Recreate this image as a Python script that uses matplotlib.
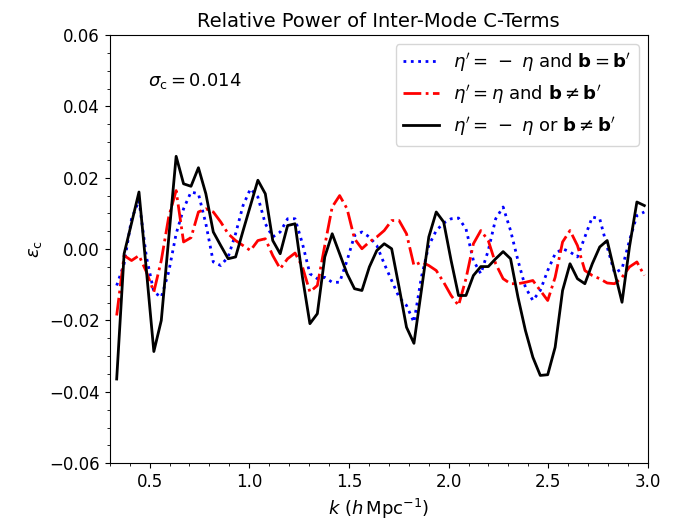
import numpy as np
import matplotlib
matplotlib.use('Agg')
import matplotlib.pyplot as plt
from matplotlib.ticker import MultipleLocator

# k grid (h/Mpc), evenly spaced bins
k = np.linspace(0.335, 2.982, 72)

# eta' = -eta and b = b'
eps_blue = [-0.0102, -0.0041, 0.0085, 0.0136, -0.0022, -0.0120, -0.0135, -0.0064, 0.0043, 0.0113,
            0.0160, 0.0155, 0.0071, -0.0036, -0.0046, -0.0022, 0.0043, 0.0122, 0.0169, 0.0146,
            0.0071, 0.0034, 0.0048, 0.0085, 0.0085, 0.0015, -0.0069, -0.0083, -0.0079, -0.0093,
            -0.0093, -0.0032, 0.0038, 0.0048, 0.0034, 0.0010, -0.0041, -0.0088, -0.0135, -0.0158,
            -0.0205, -0.0079, 0.0010, 0.0052, 0.0073, 0.0085, 0.0087, 0.0057, -0.0032, -0.0069,
            -0.0004, 0.0085, 0.0118, 0.0052, -0.0032, -0.0107, -0.0144, -0.0116, -0.0060, -0.0013,
            0.0001, -0.0008, -0.0022, 0.0034, 0.0090, 0.0085, 0.0006, -0.0067, -0.0055, 0.0024,
            0.0094, 0.0104]

# eta' = eta and b != b'
eps_red = [-0.0186, -0.0018, -0.0032, -0.0018, -0.0064, -0.0120, -0.0032, 0.0090, 0.0164, 0.0020,
           0.0032, 0.0104, 0.0113, 0.0104, 0.0076, 0.0043, 0.0024, 0.0010, -0.0004, 0.0024,
           0.0029, -0.0018, -0.0055, -0.0027, -0.0011, -0.0050, -0.0120, -0.0102, 0.0010, 0.0118,
           0.0150, 0.0113, 0.0029, 0.0001, 0.0020, 0.0034, 0.0052, 0.0080, 0.0080, 0.0043,
           -0.0046, -0.0036, -0.0046, -0.0060, -0.0093, -0.0130, -0.0158, -0.0083, 0.0015, 0.0052,
           0.0024, -0.0041, -0.0083, -0.0097, -0.0097, -0.0093, -0.0088, -0.0116, -0.0144, -0.0079,
           0.0020, 0.0052, 0.0010, -0.0060, -0.0074, -0.0083, -0.0095, -0.0097, -0.0079, -0.0050,
           -0.0036, -0.0074]

# eta' = -eta or b != b'
eps_black = [-0.0364, -0.0013, 0.0073, 0.0160, -0.0060, -0.0287, -0.0200, 0.0030, 0.0260, 0.0183,
             0.0176, 0.0228, 0.0155, 0.0048, 0.0010, -0.0027, -0.0022, 0.0051, 0.0122, 0.0193,
             0.0155, 0.0024, -0.0013, 0.0066, 0.0071, -0.0079, -0.0209, -0.0181, -0.0022, 0.0043,
             -0.0013, -0.0069, -0.0111, -0.0116, -0.0050, -0.0004, 0.0015, 0.0001, -0.0107, -0.0219,
             -0.0264, -0.0116, 0.0034, 0.0104, 0.0076, -0.0032, -0.0130, -0.0130, -0.0074, -0.0049,
             -0.0049, -0.0027, -0.0007, -0.0027, -0.0135, -0.0228, -0.0303, -0.0354, -0.0352, -0.0275,
             -0.0116, -0.0041, -0.0083, -0.0097, -0.0041, 0.0006, 0.0024, -0.0064, -0.0149, 0.0006,
             0.0132, 0.0122]

labels = [r"$\eta' = \,-\;\eta$ and $\mathbf{b} = \mathbf{b}'$",
          r"$\eta' = \eta$ and $\mathbf{b} \neq \mathbf{b}'$",
          r"$\eta' = \,-\;\eta$ or $\mathbf{b} \neq \mathbf{b}'$"]
sigma_c = 0.014

fig = plt.figure(figsize=(6.9, 5.3), dpi=100)
ax = fig.add_axes([0.159, 0.126, 0.78, 0.808])

ax.plot(k, eps_blue, ':', color='blue', lw=2, label=labels[0])
ax.plot(k, eps_red, '-.', color='red', lw=2, label=labels[1])
ax.plot(k, eps_black, '-', color='black', lw=2, label=labels[2])

ax.set_xlim(0.3, 3.0)
ax.set_ylim(-0.06, 0.06)
ax.xaxis.set_major_locator(MultipleLocator(0.5))
ax.xaxis.set_minor_locator(MultipleLocator(0.1))
ax.yaxis.set_major_locator(MultipleLocator(0.02))
ax.yaxis.set_minor_locator(MultipleLocator(0.005))
ax.tick_params(labelsize=12)

ax.set_xlabel(r'$k\ (h\,\mathrm{Mpc}^{-1})$', fontsize=13)
ax.set_ylabel(r'$\varepsilon_{\rm c}$', fontsize=13)
ax.set_title('Relative Power of Inter-Mode C-Terms', fontsize=14)
ax.text(0.49, 0.047, r'$\sigma_{\rm c} = %.3f$' % sigma_c, fontsize=13, va='center')
ax.legend(loc='upper right', fontsize=13)

fig.savefig('out.png')
